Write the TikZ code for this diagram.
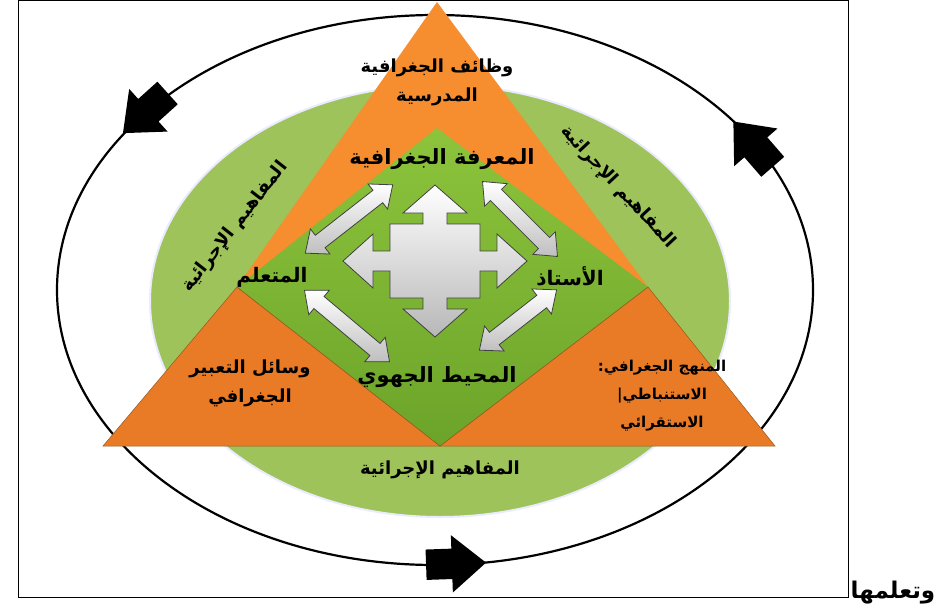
\documentclass[tikz,border=0pt]{standalone}
\usepackage{fontspec}
\newfontfamily\arabicfont[Script=Arabic]{DejaVu Sans}
\TeXXeTstate=1
\usetikzlibrary{shapes.arrows}
\newcommand{\artxt}[1]{\beginR #1\endR}
\definecolor{ellgreen}{RGB}{157,195,90}
\definecolor{ingreen}{RGB}{141,196,60}
\definecolor{ingreendk}{RGB}{108,164,42}
\definecolor{toporange}{RGB}{246,141,46}
\definecolor{loworange}{RGB}{233,122,38}
\definecolor{edgebrown}{RGB}{150,90,30}
\begin{document}
\begin{tikzpicture}[x=1pt,y=-1pt,
  lbl/.style={font=\arabicfont\bfseries\fontsize{18}{29}\selectfont, align=center, inner sep=0pt},
  biglbl/.style={lbl, font=\arabicfont\bfseries\fontsize{21}{24}\selectfont},
  midlbl/.style={lbl, font=\arabicfont\bfseries\fontsize{20}{24}\selectfont},
  ellarr/.style={single arrow, fill=black, inner xsep=0pt, inner ysep=15pt, minimum height=60,
    single arrow head extend=13.5, single arrow tip angle=80},
  duoarr/.style={double arrow, draw=black!75, line width=0.8, top color=white, bottom color=black!25,
    inner xsep=0pt, inner ysep=7.5pt, double arrow head extend=8, double arrow tip angle=80}]
\useasboundingbox (0,0) rectangle (939,610);
\draw[line width=0.8] (18,0.5) rectangle (848,597);
\node[font=\arabicfont\bfseries\fontsize{23}{26}\selectfont, inner sep=0pt] (tail) at (893,593) {\artxt{وتعلمها}};

% outer cycle
\draw[line width=2.2] (435,290) ellipse [x radius=378, y radius=275];
\node[ellarr, rotate=222] (arrl) at (152,107) {};
\node[ellarr, rotate=131] (arrr) at (759,151) {};
\node[ellarr, rotate=2] (arrb) at (447,564) {};

% green ring
\fill[ellgreen, draw=blue!8, line width=2] (440,301) ellipse [x radius=290, y radius=216];

% triangles
\coordinate (A) at (437,2);
\coordinate (L) at (237,287);
\coordinate (R) at (648,287);
\coordinate (B) at (103,446);
\coordinate (M) at (440,446);
\coordinate (C) at (775,446);
\coordinate (T) at (437,128);
\fill[toporange] (A) -- (L) -- (R) -- cycle;
\fill[loworange, draw=edgebrown, line width=0.5] (L) -- (B) -- (M) -- cycle;
\fill[loworange, draw=edgebrown, line width=0.5] (R) -- (M) -- (C) -- cycle;
\shade[top color=ingreen, bottom color=ingreendk] (T) -- (L) -- (M) -- (R) -- cycle;
\draw[edgebrown, line width=0.5] (L) -- (M) -- (R);

% centre cross
\shade[top color=white, bottom color=black!28, draw=black!75, line width=0.8, shift={(435,261)}]
  (0,-76) -- (32,-48) -- (12,-48) -- (12,-37) -- (45,-37) -- (45,-10) -- (62,-10) -- (62,-27)
  -- (92,0) -- (62,27) -- (62,10) -- (45,10) -- (45,37) -- (12,37) -- (12,48) -- (32,48)
  -- (0,76) -- (-32,48) -- (-12,48) -- (-12,37) -- (-45,37) -- (-45,10) -- (-62,10) -- (-62,27)
  -- (-92,0) -- (-62,-27) -- (-62,-10) -- (-45,-10) -- (-45,-37) -- (-12,-37) -- (-12,-48)
  -- (-32,-48) -- cycle;

\node[duoarr, minimum height=111, rotate=38] (dul) at (349,219) {};
\node[duoarr, minimum height=106, rotate=-45] (dur) at (520,219) {};
\node[duoarr, minimum height=111, rotate=-40] (dll) at (347,326) {};
\node[duoarr, minimum height=98, rotate=38] (dlr) at (518,320) {};

% labels
\node[lbl] (duties) at (437,82) {\artxt{وظائف الجغرافية}\\\artxt{المدرسية}};
\node[biglbl] (know) at (442,159) {\artxt{المعرفة الجغرافية}};
\node[midlbl] (learner) at (272,277) {\artxt{المتعلم}};
\node[midlbl] (teacher) at (570,276) {\artxt{الأستاذ}};
\node[biglbl] (env) at (437,377) {\artxt{المحيط الجهوي}};
\node[lbl] (means) at (250,383) {\artxt{وسائل التعبير}\\\artxt{الجغرافي}};
\node[lbl, font=\arabicfont\bfseries\fontsize{15}{28}\selectfont] (method) at (662,396)
  {\artxt{المنهج الجغرافي:}\\\artxt{الاستنباطي|}\\\artxt{الاستقرائي}};
\node[lbl] (procb) at (440,470) {\artxt{المفاهيم الإجرائية}};
\node[lbl, rotate=52] (procl) at (235,227) {\artxt{المفاهيم الإجرائية}};
\node[lbl, rotate=-47] (procr) at (618,187) {\artxt{المفاهيم الإجرائية}};
\end{tikzpicture}
\end{document}
